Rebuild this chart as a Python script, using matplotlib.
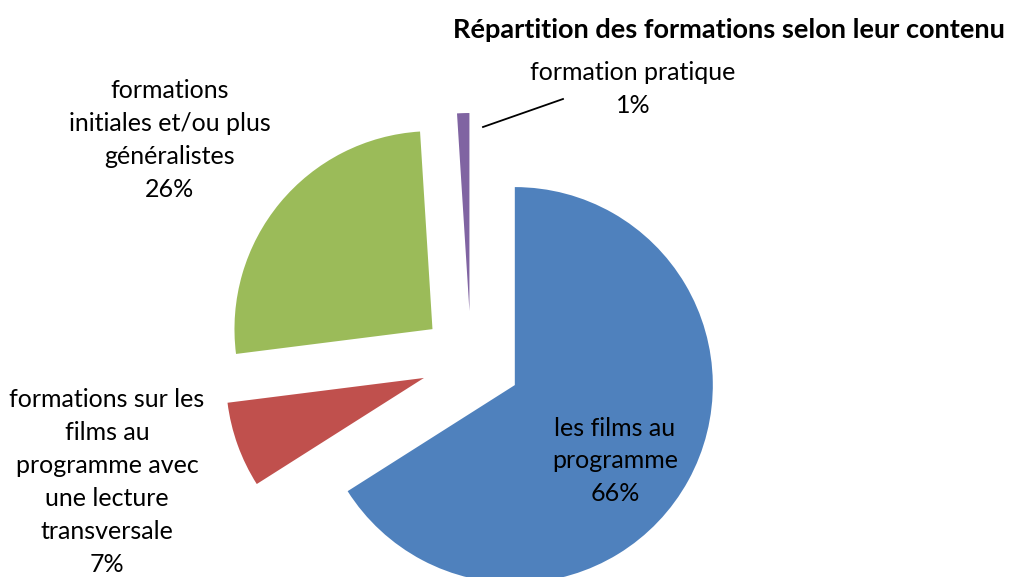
import matplotlib
matplotlib.use('Agg')
import matplotlib.pyplot as plt

plt.rcParams['font.family'] = ['Lato', 'DejaVu Sans']

categories = ['les films au\nprogramme',
              'formations sur les\nfilms au\nprogramme avec\nune lecture\ntransversale',
              'formations\ninitiales et/ou plus\ngénéralistes',
              'formation pratique']
values = [66, 7, 26, 1]
colors = ['#4F81BD', '#C0504D', '#9BBB59', '#8064A2']

# label positions in pixels (x, y from top)
label_pos = [(615, 461), (107, 482), (170, 140), (633, 89)]

fig = plt.figure(figsize=(10.1, 5.77), dpi=100)
ax = fig.add_axes([0, 0, 1, 1])

center = (471, 577 - 361)
radius = 198
ax.pie(values, colors=colors, startangle=90, counterclock=False,
       explode=[50] * 4, center=center, radius=radius, frame=True,
       wedgeprops=dict(linewidth=0))
ax.set_xlim(0, 1010)
ax.set_ylim(0, 577)
ax.set_aspect('equal')
ax.axis('off')

for cat, v, (x, y) in zip(categories, values, label_pos):
    ax.text(x, 577 - y, f'{cat}\n{v}%', ha='center', va='center',
            fontsize=18, color='#000000', linespacing=1.52)

# leader line for the small slice
ax.plot([483, 563], [577 - 127, 577 - 99], color='black', lw=1.3)

fig.text(1005 / 1010, 1 - 30 / 577, 'Répartition des formations selon leur contenu',
         ha='right', va='center', fontsize=19.5, fontweight='bold')

fig.savefig('out.png', dpi=100)
